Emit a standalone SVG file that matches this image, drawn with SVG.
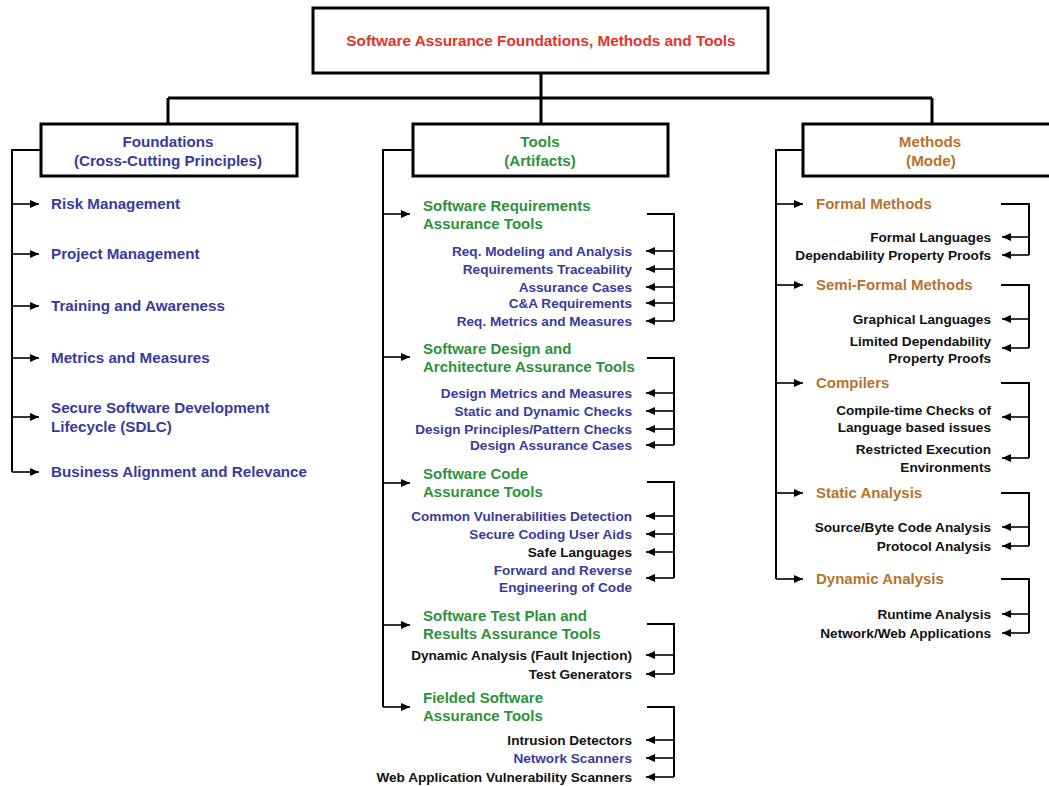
<svg xmlns="http://www.w3.org/2000/svg" width="1049" height="786" viewBox="0 0 1049 786">
<defs>
<marker id="ah" markerUnits="userSpaceOnUse" markerWidth="10" markerHeight="9" refX="9" refY="4" orient="auto">
<path d="M0,0 L9,4 L0,8 z" fill="#000"/>
</marker>
<style>
text{font-family:"Liberation Sans",Arial,sans-serif;font-weight:bold}
.box{fill:#fff;stroke:#000;stroke-width:3}
.t{font-size:15.2px;text-anchor:middle}
.title{font-size:15.3px}
.h{font-size:15px}
.f{font-size:15.2px;fill:#3a3a9c}
.s{font-size:13.6px;text-anchor:end}
.red{fill:#e2342a}
.blue{fill:#3a3a9c}
.green{fill:#2f913c}
.brown{fill:#b5732e}
.blk{fill:#111}
.ln{fill:none;stroke:#000;stroke-width:2}
.thick{fill:none;stroke:#000;stroke-width:3}
line{stroke:#000;stroke-width:1.6;marker-end:url(#ah)}
</style>
</defs>
<rect width="1049" height="786" fill="#fff"/>

<g id="connectors">
<path class="thick" d="M541,73 V98 M168,98 H932 M168,98 V124 M541,98 V124 M932,98 V124"/>
<path class="ln" d="M41,150 H12 V472"/>
<line x1="12" y1="204" x2="39" y2="204"/>
<line x1="12" y1="254" x2="39" y2="254"/>
<line x1="12" y1="306" x2="39" y2="306"/>
<line x1="12" y1="358" x2="39" y2="358"/>
<line x1="12" y1="417" x2="39" y2="417"/>
<line x1="12" y1="472" x2="39" y2="472"/>
<path class="ln" d="M413,150 H383 V707"/>
<line x1="383" y1="214" x2="410" y2="214"/>
<line x1="383" y1="357" x2="410" y2="357"/>
<line x1="383" y1="483" x2="410" y2="483"/>
<line x1="383" y1="625" x2="410" y2="625"/>
<line x1="383" y1="707" x2="410" y2="707"/>
<path class="ln" d="M647,214 H674 V321 M647,358 H674 V445 M647,482 H674 V578 M647,624 H674 V674 M647,707 H674 V777"/>
<line x1="674" y1="251" x2="646" y2="251"/>
<line x1="674" y1="269" x2="646" y2="269"/>
<line x1="674" y1="287" x2="646" y2="287"/>
<line x1="674" y1="303" x2="646" y2="303"/>
<line x1="674" y1="321" x2="646" y2="321"/>
<line x1="674" y1="393" x2="646" y2="393"/>
<line x1="674" y1="411" x2="646" y2="411"/>
<line x1="674" y1="429" x2="646" y2="429"/>
<line x1="674" y1="445" x2="646" y2="445"/>
<line x1="674" y1="516" x2="646" y2="516"/>
<line x1="674" y1="534" x2="646" y2="534"/>
<line x1="674" y1="552" x2="646" y2="552"/>
<line x1="674" y1="578" x2="646" y2="578"/>
<line x1="674" y1="655" x2="646" y2="655"/>
<line x1="674" y1="674" x2="646" y2="674"/>
<line x1="674" y1="740" x2="646" y2="740"/>
<line x1="674" y1="758" x2="646" y2="758"/>
<line x1="674" y1="777" x2="646" y2="777"/>
<path class="ln" d="M803,150 H776 V579"/>
<line x1="776" y1="204" x2="803" y2="204"/>
<line x1="776" y1="285" x2="803" y2="285"/>
<line x1="776" y1="383" x2="803" y2="383"/>
<line x1="776" y1="493" x2="803" y2="493"/>
<line x1="776" y1="579" x2="803" y2="579"/>
<path class="ln" d="M1001,204 H1029 V255 M1001,285 H1029 V348 M1001,383 H1029 V458 M1001,493 H1029 V546 M1001,579 H1029 V633"/>
<line x1="1029" y1="237" x2="1002" y2="237"/>
<line x1="1029" y1="255" x2="1002" y2="255"/>
<line x1="1029" y1="319" x2="1002" y2="319"/>
<line x1="1029" y1="348" x2="1002" y2="348"/>
<line x1="1029" y1="417" x2="1002" y2="417"/>
<line x1="1029" y1="458" x2="1002" y2="458"/>
<line x1="1029" y1="527" x2="1002" y2="527"/>
<line x1="1029" y1="546" x2="1002" y2="546"/>
<line x1="1029" y1="614" x2="1002" y2="614"/>
<line x1="1029" y1="633" x2="1002" y2="633"/>
</g>

<g id="root">
<rect class="box" x="313" y="8" width="455" height="65"/>
<text class="t title red" x="541" y="46">Software Assurance Foundations, Methods and Tools</text>
</g>

<g id="foundations">
<rect class="box" x="41" y="124" width="256" height="52"/>
<text class="t blue" x="168" y="147">Foundations</text>
<text class="t blue" x="168" y="166">(Cross-Cutting Principles)</text>
</g>
<g id="foundations-items">
<text class="f" x="51" y="209">Risk Management</text>
<text class="f" x="51" y="259">Project Management</text>
<text class="f" x="51" y="311">Training and Awareness</text>
<text class="f" x="51" y="363">Metrics and Measures</text>
<text class="f" x="51" y="413">Secure Software Development</text>
<text class="f" x="51" y="432">Lifecycle (SDLC)</text>
<text class="f" x="51" y="477">Business Alignment and Relevance</text>
</g>

<g id="tools">
<rect class="box" x="413" y="124" width="255" height="52"/>
<text class="t green" x="540" y="147">Tools</text>
<text class="t green" x="540" y="166">(Artifacts)</text>
</g>
<g id="tools-requirements">
<text class="h green" x="423" y="211">Software Requirements</text>
<text class="h green" x="423" y="229">Assurance Tools</text>
<text class="s blue" x="632" y="256">Req. Modeling and Analysis</text>
<text class="s blue" x="632" y="274">Requirements Traceability</text>
<text class="s blue" x="632" y="292">Assurance Cases</text>
<text class="s blue" x="632" y="308">C&amp;A Requirements</text>
<text class="s blue" x="632" y="326">Req. Metrics and Measures</text>
</g>
<g id="tools-design">
<text class="h green" x="423" y="354">Software Design and</text>
<text class="h green" x="423" y="372">Architecture Assurance Tools</text>
<text class="s blue" x="632" y="398">Design Metrics and Measures</text>
<text class="s blue" x="632" y="416">Static and Dynamic Checks</text>
<text class="s blue" x="632" y="434">Design Principles/Pattern Checks</text>
<text class="s blue" x="632" y="450">Design Assurance Cases</text>
</g>
<g id="tools-code">
<text class="h green" x="423" y="479">Software Code</text>
<text class="h green" x="423" y="497">Assurance Tools</text>
<text class="s blue" x="632" y="521">Common Vulnerabilities Detection</text>
<text class="s blue" x="632" y="539">Secure Coding User Aids</text>
<text class="s blk" x="632" y="557">Safe Languages</text>
<text class="s blue" x="632" y="575">Forward and Reverse</text>
<text class="s blue" x="632" y="592">Engineering of Code</text>
</g>
<g id="tools-test">
<text class="h green" x="423" y="621">Software Test Plan and</text>
<text class="h green" x="423" y="639">Results Assurance Tools</text>
<text class="s blk" x="632" y="660">Dynamic Analysis (Fault Injection)</text>
<text class="s blk" x="632" y="679">Test Generators</text>
</g>
<g id="tools-fielded">
<text class="h green" x="423" y="703">Fielded Software</text>
<text class="h green" x="423" y="721">Assurance Tools</text>
<text class="s blk" x="632" y="745">Intrusion Detectors</text>
<text class="s blue" x="632" y="763">Network Scanners</text>
<text class="s blk" x="632" y="782">Web Application Vulnerability Scanners</text>
</g>

<g id="methods">
<rect class="box" x="803" y="124" width="260" height="52"/>
<text class="t brown" x="930" y="147">Methods</text>
<text class="t brown" x="931" y="166">(Mode)</text>
</g>
<g id="methods-formal">
<text class="h brown" x="816" y="209">Formal Methods</text>
<text class="s blk" x="991" y="242">Formal Languages</text>
<text class="s blk" x="991" y="260">Dependability Property Proofs</text>
</g>
<g id="methods-semiformal">
<text class="h brown" x="816" y="290">Semi-Formal Methods</text>
<text class="s blk" x="991" y="324">Graphical Languages</text>
<text class="s blk" x="991" y="346">Limited Dependability</text>
<text class="s blk" x="991" y="363">Property Proofs</text>
</g>
<g id="methods-compilers">
<text class="h brown" x="816" y="388">Compilers</text>
<text class="s blk" x="991" y="415">Compile-time Checks of</text>
<text class="s blk" x="991" y="432">Language based issues</text>
<text class="s blk" x="991" y="454">Restricted Execution</text>
<text class="s blk" x="991" y="472">Environments</text>
</g>
<g id="methods-static">
<text class="h brown" x="816" y="498">Static Analysis</text>
<text class="s blk" x="991" y="532">Source/Byte Code Analysis</text>
<text class="s blk" x="991" y="551">Protocol Analysis</text>
</g>
<g id="methods-dynamic">
<text class="h brown" x="816" y="584">Dynamic Analysis</text>
<text class="s blk" x="991" y="619">Runtime Analysis</text>
<text class="s blk" x="991" y="638">Network/Web Applications</text>
</g>
</svg>
